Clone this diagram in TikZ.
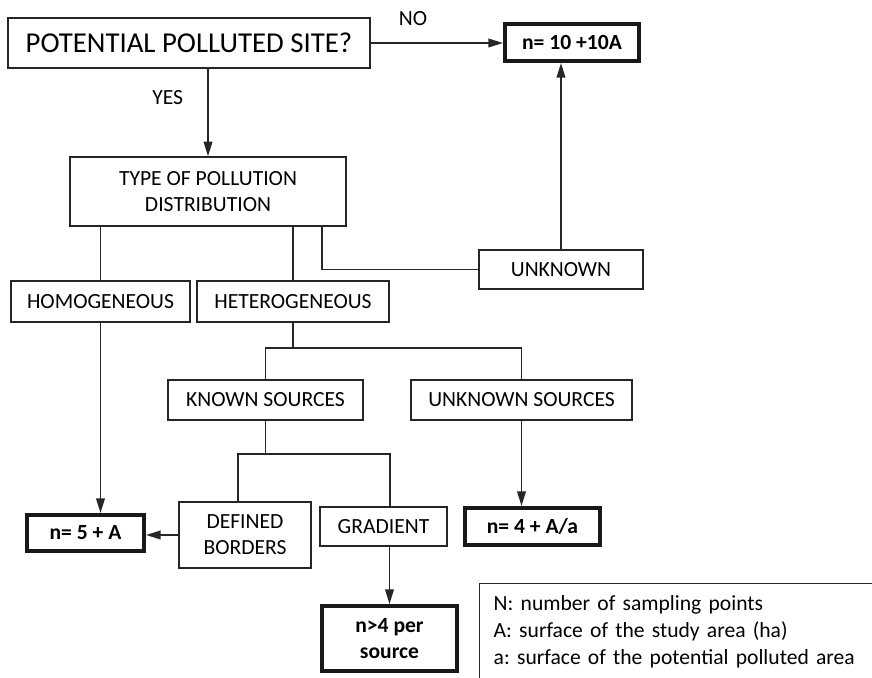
\documentclass[tikz,border=0pt]{standalone}
\usepackage{fontspec}
\setmainfont{Carlito}
\usetikzlibrary{arrows.meta}
\frenchspacing

\begin{document}
\begin{tikzpicture}[
    x=0.75pt, y=-0.75pt,
    box/.style={rectangle, draw=black!85, line width=1.1pt, inner sep=0pt, align=center, font=\fontsize{16.2}{19.5}\selectfont},
    result/.style={box, line width=3pt, draw=black!90, font=\fontsize{16.2}{19.5}\selectfont\bfseries},
    lbl/.style={font=\fontsize{16.2}{19}\selectfont, inner sep=0pt},
    link/.style={draw=black!85, line width=1.3pt},
    >={Triangle[length=11pt,width=6.5pt]}
]
    \useasboundingbox (0,0) rectangle (872,678);
    \clip (0,0) rectangle (872,678);

    % Decision and distribution boxes
    \node[box, minimum width=271.5pt, minimum height=37.5pt, font=\fontsize{21.6}{24}\selectfont] (site) at (189,43) {POTENTIAL POLLUTED SITE?};
    \node[result, minimum width=100.5pt, minimum height=27.75pt] (n10) at (572,42.5) {n= 10 +10A};
    \node[box, minimum width=207pt, minimum height=51.75pt] (type) at (208,191.5) {TYPE OF POLLUTION\\DISTRIBUTION};
    \node[box, minimum width=123pt, minimum height=29.25pt] (unknown) at (561,269.5) {UNKNOWN};
    \node[box, minimum width=134.25pt, minimum height=30.75pt] (homog) at (100.5,301.5) {HOMOGENEOUS};
    \node[box, minimum width=144pt, minimum height=30.75pt] (hetero) at (293,301.5) {HETEROGENEOUS};

    % Sources
    \node[box, minimum width=146.25pt, minimum height=30pt] (known) at (265.5,400) {KNOWN SOURCES};
    \node[box, minimum width=165.75pt, minimum height=30pt] (unksrc) at (521.5,400) {UNKNOWN SOURCES};
    \node[box, minimum width=99pt, minimum height=49.5pt] (defined) at (245,535) {DEFINED\\BORDERS};
    \node[box, minimum width=95.25pt, minimum height=29.25pt] (gradient) at (383.5,526.5) {GRADIENT};

    % Sample numbers
    \node[result, minimum width=87.75pt, minimum height=27pt] (n5) at (85.5,533) {n= 5 + A};
    \node[result, minimum width=101.25pt, minimum height=27.75pt] (n4a) at (532.5,526.5) {n= 4 + A/a};
    \node[result, minimum width=101.25pt, minimum height=48.75pt] (nper) at (389.5,638.5) {n>4 per\\source};

    % Legend
    \node[box, anchor=north west, align=left, text width=279pt, inner xsep=10.5pt, inner ysep=9pt, font=\fontsize{16.2}{20.25}\selectfont] (legend) at (479,583) {N: number of sampling points\\A: surface of the study area (ha)\\a: surface of the potential polluted area};

    % Edges
    \draw[link, ->] (site.south -| type.north) -- node[lbl, left=18pt, pos=0.33] (yes) {YES} (type.north);
    \draw[link, ->] (site.east) -- node[lbl, above=12pt, pos=0.32] (no) {NO} (site.east -| n10.west);
    \draw[link, ->] (unknown.north) -- (unknown.north |- n10.south);
    \draw[link] ([xshift=85.5pt]type.south) |- (unknown.west);
    \draw[link] (homog.north |- type.south) -- (homog.north);
    \draw[link] (hetero.north |- type.south) -- (hetero.north);

    \draw[link] (hetero.south) -- ++(0,25) coordinate (hsplit);
    \draw[link] (known.north) |- (hsplit) -| (unksrc.north);
    \draw[link] (known.south) -- ++(0,33) coordinate (ksplit);
    \draw[link] ([xshift=-5.25pt]defined.north) |- (ksplit) -| ([xshift=4.9pt]gradient.north);

    \draw[link, ->] (defined.west) -- (defined.west -| n5.east);
    \draw[link, ->] (homog.south) -- (homog.south |- n5.north);
    \draw[link, ->] (unksrc.south) -- (unksrc.south |- n4a.north);
    \draw[link, ->] (nper.north |- gradient.south) -- (nper.north);
\end{tikzpicture}
\end{document}
